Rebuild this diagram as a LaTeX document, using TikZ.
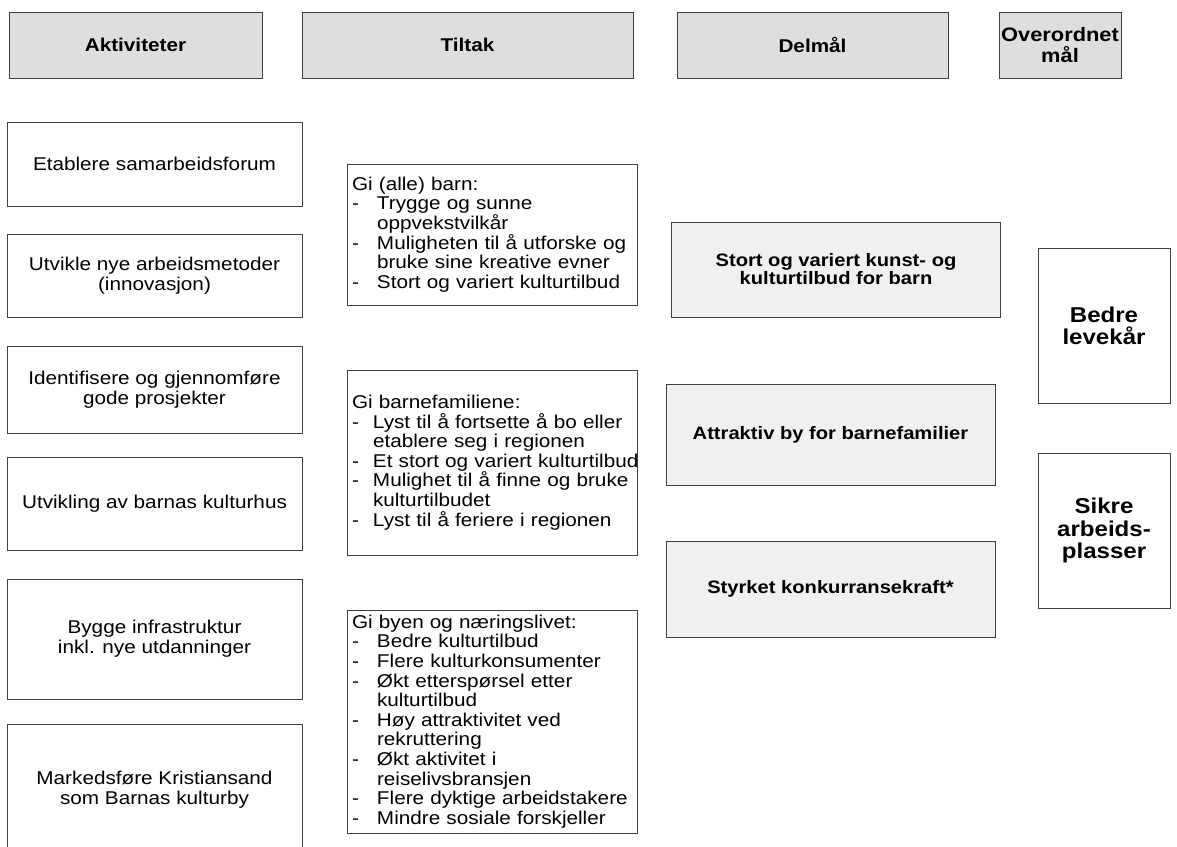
\documentclass[tikz,border=0pt]{standalone}
\usepackage{fontspec}
\setmainfont{Liberation Sans}[FakeStretch=1.12]
\usepackage{tikz}

\newlength{\innrykk}
\setlength{\innrykk}{25pt}
\newcommand{\punkt}[1]{\makebox[\innrykk][l]{-}\mbox{#1}}
\newcommand{\videre}[1]{\hspace*{\innrykk}\mbox{#1}}

\begin{document}
\begin{tikzpicture}[x=1pt, y=-1pt,
		boks/.style={draw=black!75, line width=0.7pt},
		kol/.style={boks, fill=black!13, inner sep=2pt, minimum height=66pt, align=center, font=\bfseries\fontsize{18.5}{20}\selectfont},
		aktivitet/.style={boks, minimum width=295pt, align=center, font=\fontsize{18.5}{20}\selectfont},
		tiltak/.style={boks, text width=280pt, inner xsep=5pt, align=left, font=\fontsize{18.5}{19.6}\selectfont},
		delmaal/.style={boks, fill=black!6, minimum width=329pt, align=center, font=\bfseries\fontsize{18}{18}\selectfont},
		maal/.style={boks, minimum width=132pt, minimum height=155pt, align=center, font=\bfseries\fontsize{21.5}{22.5}\selectfont}
	]
		\useasboundingbox (0,0) rectangle (1177,846);

		% column headers
		\node[kol, minimum width=253pt] (hAkt) at (135.5,45) {Aktiviteter};
		\node[kol, minimum width=331pt] (hTil) at (467.5,45) {Tiltak};
		\node[kol, minimum width=271pt] (hDel) at (812.5,45) {Delmål};
		\node[kol, minimum width=122pt, font=\bfseries\fontsize{19.5}{21}\selectfont] (hMaal) at (1060,45) {Overordnet\\mål};

		% aktiviteter
		\node[aktivitet, minimum height=84pt] (a1) at (154.5,164) {Etablere samarbeidsforum};
		\node[aktivitet, minimum height=83pt] (a2) at (154.5,275.5) {Utvikle nye arbeidsmetoder\\(innovasjon)};
		\node[aktivitet, minimum height=87pt] (a3) at (154.5,389.5) {Identifisere og gjennomføre\\gode prosjekter};
		\node[aktivitet, minimum height=93pt] (a4) at (154.5,503.5) {Utvikling av barnas kulturhus};
		\node[aktivitet, minimum height=120pt] (a5) at (154.5,639) {Bygge infrastruktur\\inkl. nye utdanninger};
		\node[aktivitet, minimum height=132pt] (a6) at (154.5,790) {Markedsføre Kristiansand\\som Barnas kulturby};  % runs off the page

		% tiltak
		\node[tiltak, minimum height=141pt] (tBarn) at (492,234.5) {Gi (alle) barn:\\
			\punkt{Trygge og sunne}\\
			\videre{oppvekstvilkår}\\
			\punkt{Muligheten til å utforske og}\\
			\videre{bruke sine kreative evner}\\
			\punkt{Stort og variert kulturtilbud}};
		\node[tiltak, minimum height=185pt, execute at begin node={\setlength{\innrykk}{21pt}}] (tFam) at (492,462.5) {Gi barnefamiliene:\\
			\punkt{Lyst til å fortsette å bo eller}\\
			\videre{etablere seg i regionen}\\
			\punkt{Et stort og variert kulturtilbud}\\
			\punkt{Mulighet til å finne og bruke}\\
			\videre{kulturtilbudet}\\
			\punkt{Lyst til å feriere i regionen}};
		\node[tiltak, minimum height=223pt] (tBy) at (492,721.5) {Gi byen og næringslivet:\\
			\punkt{Bedre kulturtilbud}\\
			\punkt{Flere kulturkonsumenter}\\
			\punkt{Økt etterspørsel etter}\\
			\videre{kulturtilbud}\\
			\punkt{Høy attraktivitet ved}\\
			\videre{rekruttering}\\
			\punkt{Økt aktivitet i}\\
			\videre{reiselivsbransjen}\\
			\punkt{Flere dyktige arbeidstakere}\\
			\punkt{Mindre sosiale forskjeller}};

		% delmål
		\node[delmaal, minimum height=95pt] (d1) at (836,269.5) {Stort og variert kunst- og\\kulturtilbud for barn};
		\node[delmaal, minimum height=101pt] (d2) at (830.5,434.5) {Attraktiv by for barnefamilier};
		\node[delmaal, minimum height=96pt] (d3) at (830.5,589) {Styrket konkurransekraft*};

		% overordnet mål
		\node[maal] (m1) at (1104,326) {Bedre\\levekår};
		\node[maal] (m2) at (1104,530.5) {Sikre\\arbeids-\\plasser};
	\end{tikzpicture}
\end{document}
